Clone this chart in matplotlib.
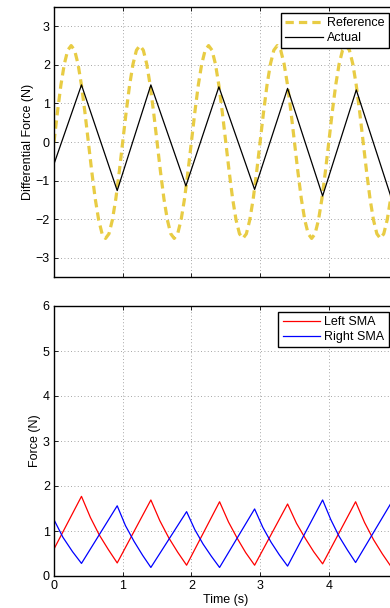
import matplotlib
matplotlib.use('Agg')
import matplotlib.pyplot as plt

plt.rcParams['font.family'] = ['Liberation Sans', 'DejaVu Sans']
plt.rcParams['font.size'] = 9

# reference force (sampled every 0.05 s)
t_ref = [i * 0.05 for i in range(100)]
ref = [0.00, 0.77, 1.47, 2.02, 2.38, 2.50, 2.38, 2.02, 1.47, 0.77,
       0.00, -0.77, -1.47, -2.02, -2.38, -2.50, -2.38, -2.02, -1.47, -0.77,
       0.00, 0.77, 1.47, 2.02, 2.38, 2.50, 2.38, 2.02, 1.47, 0.77,
       0.00, -0.77, -1.47, -2.02, -2.38, -2.50, -2.38, -2.02, -1.47, -0.77,
       0.00, 0.77, 1.47, 2.02, 2.38, 2.50, 2.38, 2.02, 1.47, 0.77,
       0.00, -0.77, -1.47, -2.02, -2.38, -2.50, -2.38, -2.02, -1.47, -0.77,
       0.00, 0.77, 1.47, 2.02, 2.38, 2.50, 2.38, 2.02, 1.47, 0.77,
       0.00, -0.77, -1.47, -2.02, -2.38, -2.50, -2.38, -2.02, -1.47, -0.77,
       0.00, 0.77, 1.47, 2.02, 2.38, 2.50, 2.38, 2.02, 1.47, 0.77,
       0.00, -0.77, -1.47, -2.02, -2.38, -2.50, -2.38, -2.02, -1.47, -0.77]

# actual differential force
t_act = [0.00, 0.40, 0.92, 1.41, 1.92, 2.40, 2.92, 3.40, 3.91, 4.40, 4.91]
act = [-0.57, 1.48, -1.26, 1.48, -1.14, 1.43, -1.23, 1.39, -1.40, 1.35, -1.45]

# left SMA force
t_left = [0.00, 0.40, 0.53, 0.66, 0.79, 0.92,
          1.41, 1.54, 1.67, 1.80, 1.93,
          2.41, 2.54, 2.67, 2.79, 2.92,
          3.40, 3.53, 3.66, 3.78, 3.91,
          4.39, 4.52, 4.65, 4.78, 4.91]
left = [0.60, 1.77, 1.30, 0.91, 0.59, 0.29,
        1.69, 1.23, 0.85, 0.53, 0.24,
        1.65, 1.20, 0.83, 0.52, 0.24,
        1.60, 1.17, 0.83, 0.54, 0.27,
        1.65, 1.19, 0.81, 0.49, 0.20]

# right SMA force
t_right = [0.00, 0.13, 0.27, 0.40,
           0.92, 1.04, 1.165, 1.29, 1.41,
           1.93, 2.05, 2.17, 2.29, 2.41,
           2.92, 3.04, 3.16, 3.28, 3.40,
           3.91, 4.03, 4.15, 4.27, 4.39,
           4.91]
right = [1.25, 0.86, 0.54, 0.28,
         1.56, 1.12, 0.77, 0.46, 0.19,
         1.43, 1.03, 0.71, 0.44, 0.19,
         1.49, 1.08, 0.75, 0.47, 0.22,
         1.69, 1.25, 0.88, 0.58, 0.30,
         1.63]

fig = plt.figure(figsize=(3.9, 6.08), dpi=100)
W = 343.5 / 390
H = 270 / 608
ax1 = fig.add_axes([54 / 390, 1 - 277 / 608, W, H])
ax2 = fig.add_axes([54 / 390, 1 - 576 / 608, W, H])

def style(ax):
    ax.grid(True, linestyle=(0, (1, 3)), color='#888888', linewidth=0.6)
    ax.tick_params(direction='in', top=True, right=True, length=3, width=0.6, colors='black', pad=3)
    for s in ax.spines.values():
        s.set_linewidth(1.0)
    ax.set_xlim(0, 5)
    ax.set_xticks([0, 1, 2, 3, 4, 5])

ax1.plot(t_ref, ref, color='#E8CC44', linewidth=2.3, dashes=(2.6, 1.6), label='Reference')
ax1.plot(t_act, act, color='black', linewidth=0.9, label='Actual')
style(ax1)
ax1.set_ylim(-3.5, 3.5)
ax1.set_yticks([-3, -2, -1, 0, 1, 2, 3])
ax1.set_xticklabels([])
ax1.set_ylabel('Differential Force (N)', labelpad=1)

ax2.plot(t_left, left, color='#FF0000', linewidth=0.9, label='Left SMA')
ax2.plot(t_right, right, color='#0000FF', linewidth=0.9, label='Right SMA')
style(ax2)
ax2.set_ylim(0, 6)
ax2.set_yticks([0, 1, 2, 3, 4, 5, 6])
ax2.set_xticklabels(['0', '1', '2', '3', '4', ''])
ax2.set_xlabel('Time (s)', labelpad=1)
ax2.set_ylabel('Force (N)', labelpad=1)

for ax, top in ((ax1, 12.5), (ax2, 311.5)):
    leg = ax.legend(loc='upper right', bbox_to_anchor=(389 / 390, 1 - top / 608),
                    bbox_transform=fig.transFigure, fancybox=False, framealpha=1,
                    edgecolor='black', handlelength=3.0, borderpad=0.35,
                    labelspacing=0.25, handletextpad=0.35, borderaxespad=0)
    leg.get_frame().set_linewidth(1.0)

fig.savefig('out.png', dpi=100)
